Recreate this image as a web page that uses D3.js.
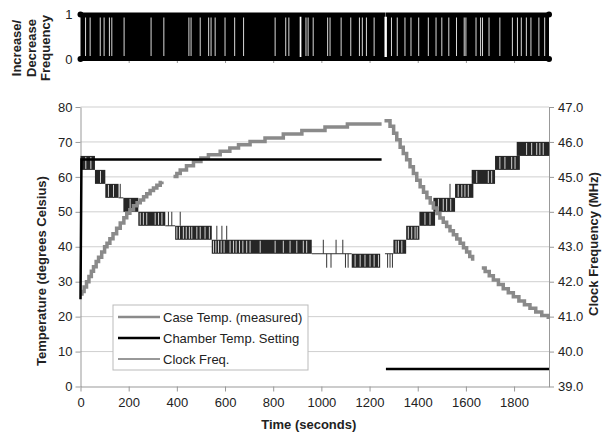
<!DOCTYPE html>
<html>
<head>
<meta charset="utf-8">
<script src="https://cdn.jsdelivr.net/npm/d3@7/dist/d3.min.js"></script>
<style>
  body { margin: 0; background: #fff; }
  svg { font-family: "Liberation Sans", Arial, sans-serif; }
  .axis text { font-size: 13px; fill: #222; }
  .axis path, .axis line { stroke: #999; }
  .title { font-size: 13px; font-weight: bold; fill: #222; }
  .legend text { font-size: 13px; fill: #222; }
</style>
</head>
<body>
<div id="chart"></div>
<script>
// ---- data ----
var timeTicks = [0, 200, 400, 600, 800, 1000, 1200, 1400, 1600, 1800];
var tempTicks = [0, 10, 20, 30, 40, 50, 60, 70, 80];
var freqTicks = [39, 40, 41, 42, 43, 44, 45, 46, 47];
var tEnd = 1945;

// case temperature, [seconds, deg C], split where the record has holes
var caseTempA = [[0,26.5],[6,27.2],[15,28.5],[25,30],[35,31.5],[45,33],[54,34.3],[65,35.8],[75,37],[88,38.5],
  [100,40],[110,41],[122,42.3],[135,43.7],[150,45.3],[165,46.8],[180,48.3],[192,49.6],[205,50.6],[220,51.7],
  [235,52.6],[248,53.4],[262,54.3],[275,55.2],[289,56.1],[303,56.8],[317,57.6],[331,58.4],[338,58.7]];
var caseTempB = [[386,60.1],[400,61],[414,62],[440,63.2],[469,64.4],[500,65.4],[531,66.3],[580,67.3],[620,68.3],
  [656,69.2],[704,70.1],[766,71.1],[842,72.3],[919,73.3],[1015,74.3],[1108,75.1],[1250,75.1]];
var caseTempC = [[1262,76.1],[1274,76.1],[1285,74.5],[1300,72.5],[1313,70.6],[1327,68.5],[1340,66.7],[1354,64.9],
  [1368,62.9],[1382,61],[1396,59],[1410,57.2],[1424,55.6],[1438,54],[1452,52.5],[1465,51.1],[1480,49.5],
  [1492,48.2],[1506,47],[1520,45.8],[1534,44.6],[1548,43.4],[1562,42.2],[1576,41],[1590,39.7],[1603,38.5],
  [1616,37.2],[1628,36]];
var caseTempD = [[1666,33.9],[1680,32.9],[1697,31.7],[1714,30.5],[1735,29.2],[1755,28],[1776,26.8],[1797,25.7],
  [1820,24.5],[1843,23.4],[1866,22.4],[1890,21.3],[1915,20.3],[1942,19.3]];

// chamber setting
var chamberA = [[0,25],[4,65],[1250,65]];
var chamberB = [[1268,5],[1945,5]];

// clock frequency: stretches where it dithers between two levels [t0, t1, hi MHz, lo MHz]
var clockBlocks = [[0,60,45.6,45.2],[60,103,45.2,44.8],[103,158,44.8,44.4],[178,240,44.4,44.0],[240,352,44.0,43.6],
  [393,545,43.6,43.2],[545,960,43.2,42.8],[1126,1244,42.8,42.4],[1299,1352,43.2,42.8],[1352,1407,43.6,43.2],
  [1407,1472,44.0,43.6],[1465,1555,44.4,44.0],[1555,1631,44.8,44.4],[1624,1721,45.2,44.8],[1721,1824,45.6,45.2],
  [1811,1946,46.0,45.6]];
// steady stretches [t0, t1, MHz]
var clockFlat = [[158,178,44.4],[352,393,43.6],[960,1126,42.8],[1264,1299,42.8]];
// single excursions [t, from, to]
var clockSpikes = [[165,44.4,44.8],[365,43.6,44.0],[379,43.6,44.0],[414,43.6,44.0],[566,43.2,43.6],[587,43.2,43.6],
  [607,43.2,43.6],[1008,42.8,43.2],[1022,42.8,42.4],[1040,42.8,42.4],[1061,42.8,43.2],[1089,42.8,43.2],
  [1100,42.8,42.4],[1111,42.8,42.4],[1275,42.8,42.4],[1285,42.8,42.4],[1295,42.8,42.4],[1534,44.4,44.8]];
// short pauses inside the dithering (white stripes)
var clockGaps = [22,43,83,116,137,206,248,261,275,310,324,338,400,411,427,439,452,462,483,497,517,535,
  552,562,573,584,596,621,635,646,660,674,690,704,746,808,842,870,898,925,939,1140,1161,1181,1202,1219,1237,
  1310,1320,1334,1361,1375,1389,1398,1430,1451,1486,1506,1520,1537,1568,1583,1596,1610,1645,1693,1707,
  1741,1762,1790,1804,1852,1873,1894,1907,1921];

// increase/decrease signal: times where it holds instead of toggling
var holdTimes = [21,40,82,98,120,130,181,293,346,450,459,497,532,542,559,600,640,677,808,852,865,936,945,966,
  1026,1036,1082,1122,1158,1170,1187,1219,1291,1315,1347,1372,1404,1444,1476,1500,1529,1561,1593,1600,1642,
  1661,1669,1696,1741,1793,1814,1830,1851,1870,1903,1927];
var longHolds = [[910,917,1],[1262,1272,0]]; // [t0, t1, level held]

var legendNames = ["Case Temp. (measured)", "Chamber Temp. Setting", "Clock Freq."];

// ---- layout ----
var width = 605, height = 436;
var plot = {left: 80.5, right: 549, top: 107, bottom: 386.5};

var svg = d3.select("#chart").append("svg")
    .attr("width", width)
    .attr("height", height);

var x = d3.scaleLinear().domain([0, tEnd]).range([plot.left, plot.right]);
var yT = d3.scaleLinear().domain([0, 80]).range([plot.bottom, plot.top]);
var yF = d3.scaleLinear().domain([39, 47]).range([plot.bottom, plot.top]);
var yS = d3.scaleLinear().domain([0, 1]).range([59, 14.5]);

////////// top panel //////////
var topPanel = svg.append("g").attr("class", "toppanel");

topPanel.append("g")
    .attr("class", "axis")
    .attr("transform", "translate(0," + yS(0) + ")")
    .call(d3.axisBottom(x).tickValues(timeTicks.slice(1)).tickSize(4).tickFormat(""))
    .call(function(g) { g.select(".domain").remove(); });

topPanel.append("rect")
    .attr("x", x(0))
    .attr("width", x(tEnd) - x(0))
    .attr("y", yS(1))
    .attr("height", yS(0) - yS(1))
    .attr("fill", "#000");

topPanel.selectAll(".hold")
    .data(holdTimes)
  .enter().append("rect")
    .attr("x", function(d) { return x(d) - 0.5; })
    .attr("width", 1)
    .attr("y", yS(1) + 3)
    .attr("height", yS(0) - yS(1) - 6)
    .attr("fill", "#fff")
    .attr("opacity", 0.85);

topPanel.selectAll(".longhold")
    .data(longHolds)
  .enter().append("rect")
    .attr("x", function(d) { return x(d[0]); })
    .attr("width", function(d) { return x(d[1]) - x(d[0]); })
    .attr("y", yS(1) + 2)
    .attr("height", yS(0) - yS(1) - 4)
    .attr("fill", "#fff");

[0, 1].forEach(function(level) {
  topPanel.append("line")
      .attr("x1", x(0)).attr("x2", x(tEnd))
      .attr("y1", yS(level)).attr("y2", yS(level))
      .attr("stroke", "#000")
      .attr("stroke-width", 4);
  // breaks where the signal sat on the other level
  longHolds.filter(function(h) { return h[2] != level; }).forEach(function(h) {
    topPanel.append("rect")
        .attr("x", x(h[0]) + 1)
        .attr("width", x(h[1]) - x(h[0]) - 2)
        .attr("y", yS(level) - 2.5)
        .attr("height", 5)
        .attr("fill", "#fff");
  });
  topPanel.selectAll(".end" + level)
      .data([0, tEnd])
    .enter().append("circle")
      .attr("cx", function(d) { return x(d); })
      .attr("cy", yS(level))
      .attr("r", 3)
      .attr("fill", "#000");
});

topPanel.append("g")
    .attr("class", "axis")
    .attr("transform", "translate(" + plot.left + ",0)")
    .call(d3.axisLeft(yS).tickValues([0, 1]).tickSize(0).tickPadding(8).tickFormat(d3.format("d")))
    .call(function(g) { g.select(".domain").remove(); });

var topTitle = svg.append("text")
    .attr("class", "title")
    .attr("transform", "translate(0,48) rotate(-90)")
    .attr("text-anchor", "middle");
["Increase/", "Decrease", "Frequency"].forEach(function(s, i) {
  topTitle.append("tspan").attr("x", 0).attr("y", 21 + i * 14.5).text(s);
});

////////// main chart //////////
var main = svg.append("g").attr("class", "main");

main.selectAll(".grid")
    .data(tempTicks.slice(1))
  .enter().append("line")
    .attr("x1", plot.left).attr("x2", plot.right)
    .attr("y1", function(d) { return yT(d); })
    .attr("y2", function(d) { return yT(d); })
    .attr("stroke", "#cfcfcf")
    .attr("stroke-width", 1);

main.append("g")
    .attr("class", "axis")
    .attr("transform", "translate(" + plot.left + ",0)")
    .call(d3.axisLeft(yT).tickValues(tempTicks).tickSize(5).tickPadding(3).tickSizeOuter(0));

main.append("g")
    .attr("class", "axis")
    .attr("transform", "translate(" + plot.right + ",0)")
    .call(d3.axisRight(yF).tickValues(freqTicks).tickSize(5).tickPadding(4).tickSizeOuter(0).tickFormat(d3.format(".1f")));

main.append("g")
    .attr("class", "axis")
    .attr("transform", "translate(0," + plot.bottom + ")")
    .call(d3.axisBottom(x).tickValues(timeTicks).tickSize(5).tickPadding(6).tickSizeOuter(0).tickFormat(d3.format("d")));

// clock frequency
var clock = main.append("g").attr("class", "clock");
clock.selectAll(".block")
    .data(clockBlocks)
  .enter().append("rect")
    .attr("x", function(d) { return x(d[0]); })
    .attr("width", function(d) { return x(d[1]) - x(d[0]); })
    .attr("y", function(d) { return yF(d[2]); })
    .attr("height", function(d) { return yF(d[3]) - yF(d[2]); })
    .attr("fill", "#262626");

clock.selectAll(".gap")
    .data(clockGaps.map(function(t) {
      var b = clockBlocks.find(function(b) { return t >= b[0] && t <= b[1]; });
      return b ? {t: t, hi: b[2], lo: b[3]} : null;
    }).filter(Boolean))
  .enter().append("rect")
    .attr("x", function(d) { return x(d.t) - 0.5; })
    .attr("width", 1)
    .attr("y", function(d) { return yF(d.hi) + 1; })
    .attr("height", function(d) { return yF(d.lo) - yF(d.hi) - 2; })
    .attr("fill", "#fff")
    .attr("opacity", 0.8);

clock.selectAll(".flat")
    .data(clockFlat)
  .enter().append("line")
    .attr("x1", function(d) { return x(d[0]); })
    .attr("x2", function(d) { return x(d[1]); })
    .attr("y1", function(d) { return yF(d[2]); })
    .attr("y2", function(d) { return yF(d[2]); })
    .attr("stroke", "#333")
    .attr("stroke-width", 1);

clock.selectAll(".spike")
    .data(clockSpikes)
  .enter().append("line")
    .attr("x1", function(d) { return x(d[0]); })
    .attr("x2", function(d) { return x(d[0]); })
    .attr("y1", function(d) { return yF(d[1]); })
    .attr("y2", function(d) { return yF(d[2]); })
    .attr("stroke", "#333")
    .attr("stroke-width", 1);

// case temperature
var caseLine = d3.line()
    .x(function(d) { return x(d[0]); })
    .y(function(d) { return yT(d[1]); })
    .curve(d3.curveStepAfter);

main.selectAll(".casetemp")
    .data([caseTempA, caseTempB, caseTempC, caseTempD])
  .enter().append("path")
    .attr("d", caseLine)
    .attr("fill", "none")
    .attr("stroke", "#8a8a8a")
    .attr("stroke-width", 3.5);

// chamber setting
var chamberLine = d3.line()
    .x(function(d) { return x(d[0]); })
    .y(function(d) { return yT(d[1]); });

main.selectAll(".chamber")
    .data([chamberA, chamberB])
  .enter().append("path")
    .attr("d", chamberLine)
    .attr("fill", "none")
    .attr("stroke", "#000")
    .attr("stroke-width", 2.5);

// titles
svg.append("text")
    .attr("class", "title")
    .attr("transform", "translate(46,271) rotate(-90)")
    .attr("text-anchor", "middle")
    .text("Temperature (degrees Celsius)");

svg.append("text")
    .attr("class", "title")
    .attr("transform", "translate(598,244) rotate(-90)")
    .attr("text-anchor", "middle")
    .text("Clock Frequency (MHz)");

svg.append("text")
    .attr("class", "title")
    .attr("x", (plot.left + plot.right) / 2 - 6)
    .attr("y", 429)
    .attr("text-anchor", "middle")
    .text("Time (seconds)");

// legend
var legend = svg.append("g").attr("class", "legend").attr("transform", "translate(113,305)");
legend.append("rect")
    .attr("width", 195).attr("height", 65)
    .attr("fill", "#fff")
    .attr("stroke", "#bbb");

var legendStyle = [{color: "#8a8a8a", w: 2.5}, {color: "#000", w: 2.5}, {color: "#333", w: 1}];
var item = legend.selectAll(".item")
    .data(legendNames)
  .enter().append("g")
    .attr("transform", function(d, i) { return "translate(0," + (12 + i * 21) + ")"; });
item.append("line")
    .attr("x1", 5).attr("x2", 47)
    .attr("stroke", function(d, i) { return legendStyle[i].color; })
    .attr("stroke-width", function(d, i) { return legendStyle[i].w; });
item.append("text")
    .attr("x", 50)
    .attr("dy", "0.35em")
    .text(function(d) { return d; });
</script>
</body>
</html>
